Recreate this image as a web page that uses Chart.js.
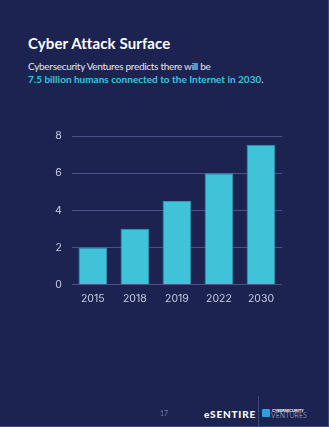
<!DOCTYPE html>
<html>
<head>
<meta charset="utf-8">
<script src="https://cdn.jsdelivr.net/npm/chart.js@4"></script>
<style>
  html, body { margin: 0; padding: 0; }
  body {
    width: 329px; height: 427px; overflow: hidden;
    background: #1c2351; position: relative;
    font-family: "Lato", "Open Sans", sans-serif;
  }
  .edge-r { position: absolute; right: 0; top: 0; width: 1px; height: 427px; background: #3b4683; }
  .edge-b { position: absolute; left: 0; bottom: 0; width: 329px; height: 1px; background: #3b4683; }
  h1 { position: absolute; left: 28px; top: 34px; margin: 0; color: #fff; font-size: 15px; font-weight: 700; letter-spacing: 0.1px; line-height: 18px; }
  .sub { position: absolute; left: 28px; top: 60px; margin: 0; color: #e3e5f0; font-size: 10px; line-height: 13px; letter-spacing: -0.3px; }
  .sub b { color: #3ec3db; letter-spacing: 0; }
  #chartBox { position: absolute; left: 45px; top: 120px; width: 243px; height: 185px; }
  .pg { position: absolute; left: 160px; top: 409px; color: #6f76a0; font-size: 7px; }
  .logo { position: absolute; left: 204px; top: 408px; color: #fff; font-size: 10px; font-weight: 900; letter-spacing: 0.8px; line-height: 12px; }
  .sep { position: absolute; left: 258px; top: 396px; width: 1px; height: 31px; background: #3b4683; }
  .cv-icon { position: absolute; left: 262px; top: 409px; width: 8px; height: 8px; background: #2f9ee0; border-radius: 1px; }
  .cv1 { position: absolute; left: 272px; top: 408px; color: #fff; font-size: 4px; font-weight: 900; line-height: 5px; }
  .cv2 { position: absolute; left: 271px; top: 412px; color: #c9cce0; font-size: 7px; font-weight: 300; letter-spacing: 0.1px; line-height: 7px; }
</style>
</head>
<body>
<div class="edge-r"></div>
<div class="edge-b"></div>
<h1>Cyber Attack Surface</h1>
<p class="sub">Cybersecurity Ventures predicts there will be<br><b>7.5 billion humans connected to the Internet in 2030</b>.</p>
<div id="chartBox"><canvas id="chart"></canvas></div>
<div class="pg">17</div>
<div class="logo">eSENTIRE</div>
<div class="sep"></div>
<div class="cv-icon"></div>
<div class="cv1">CYBERSECURITY</div>
<div class="cv2">VENTURES</div>
<script>
const years = ["2015", "2018", "2019", "2022", "2030"];
const humansOnline = [2.0, 3.0, 4.5, 6.0, 7.55];
const yTicks = [0, 2, 4, 6, 8];

document.addEventListener("DOMContentLoaded", () => {
  const ctx = document.getElementById("chart").getContext("2d");
  new Chart(ctx, {
    type: "bar",
    data: {
      labels: years,
      datasets: [{
        data: humansOnline,
        backgroundColor: "#3ec3d9",
        borderColor: "#2c9bb6",
        borderWidth: 1,
        categoryPercentage: 1,
        barPercentage: 0.68
      }]
    },
    options: {
      responsive: true,
      maintainAspectRatio: false,
      animation: false,
      plugins: { legend: { display: false }, tooltip: { enabled: false } },
      layout: { padding: { top: 4, right: 6 } },
      scales: {
        x: {
          grid: { display: false },
          border: { display: false },
          ticks: { color: "#c9cce0", font: { family: "Inter", size: 10.5 }, padding: 0 }
        },
        y: {
          min: 0,
          max: 8,
          afterBuildTicks: axis => { axis.ticks = yTicks.map(v => ({ value: v })); },
          grid: { color: "#4a5287", lineWidth: 1, drawTicks: false },
          border: { display: false },
          ticks: { color: "#c9cce0", font: { family: "Inter", size: 10.5 }, padding: 10 }
        }
      }
    }
  });
});
</script>
</body>
</html>
